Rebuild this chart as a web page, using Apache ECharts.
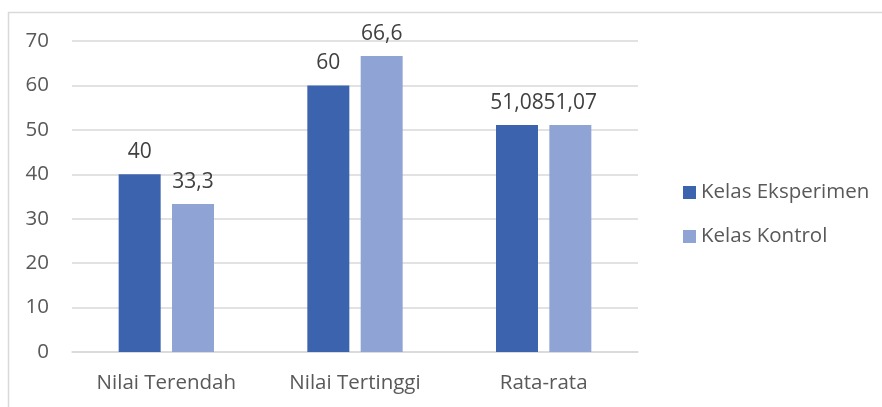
<!DOCTYPE html>
<html>
<head>
<meta charset="utf-8">
<script src="https://cdn.jsdelivr.net/npm/echarts@6/dist/echarts.min.js"></script>
<style>
html,body{margin:0;padding:0;background:#fff;}
#main{width:882px;height:407px;}
</style>
</head>
<body>
<div id="main"></div>
<script>
var categories = ['Nilai Terendah', 'Nilai Tertinggi', 'Rata-rata'];
var seriesNames = ['Kelas Eksperimen', 'Kelas Kontrol'];
var eksperimen = [40, 60, 51.08];
var kontrol = [33.3, 66.6, 51.07];
var yTicks = [0, 10, 20, 30, 40, 50, 60, 70];

var FONT = 'Open Sans';
var TXT = '#595959';
var chart = echarts.init(document.getElementById('main'), null, {renderer: 'canvas'});
function fmt(p) { return String(p.value).replace('.', ','); }
var labelCfg = {show: true, position: 'top', distance: 12, color: '#404040', fontFamily: FONT, fontSize: 21, formatter: fmt};
chart.setOption({
  animation: false,
  graphic: [{
    type: 'rect', shape: {x: 8.5, y: 12.5, width: 900, height: 420},
    style: {fill: 'none', stroke: '#d9d9d9', lineWidth: 1.5}, silent: true
  }],
  grid: {left: 72, right: 244, top: 41, bottom: 55, containLabel: false},
  legend: {
    data: seriesNames, orient: 'vertical', left: 678, top: 177,
    itemWidth: 13, itemHeight: 13, itemGap: 23,
    textStyle: {color: TXT, fontFamily: FONT, fontSize: 20.5, padding: [0, 0, 0, 0]},
    icon: 'rect'
  },
  xAxis: {
    type: 'category', data: categories,
    axisLine: {lineStyle: {color: '#d9d9d9', width: 1.5}},
    axisTick: {show: false},
    axisLabel: {color: TXT, fontFamily: FONT, fontSize: 20.5, margin: 21}
  },
  yAxis: {
    type: 'value', min: 0, max: 70, interval: 10,
    axisLine: {show: false}, axisTick: {show: false},
    splitLine: {lineStyle: {color: '#d9d9d9', width: 1.5}},
    axisLabel: {color: TXT, fontFamily: FONT, fontSize: 20.5, margin: 23,
      formatter: function (v) { return yTicks.indexOf(v) >= 0 ? String(v) : ''; }}
  },
  series: [
    {name: seriesNames[0], type: 'bar', data: eksperimen, barWidth: 42, barGap: '27%',
     itemStyle: {color: '#3C63AD'}, label: labelCfg},
    {name: seriesNames[1], type: 'bar', data: kontrol, barWidth: 42,
     itemStyle: {color: '#8FA4D5'}, label: labelCfg}
  ]
});
</script>
</body>
</html>
